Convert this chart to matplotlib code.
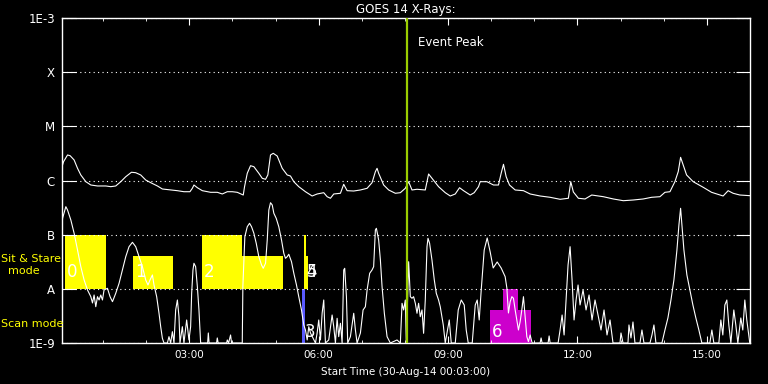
import numpy as np
import matplotlib
matplotlib.use('Agg')
import matplotlib.pyplot as plt
from matplotlib.ticker import MultipleLocator, NullLocator

plt.rcParams['font.family'] = 'DejaVu Sans'
plt.rcParams['text.color'] = 'white'

# GOES 14 light curves: (hours since 00:00, log10 flux W/m^2)
long_channel = [
    (0.05, -5.745), (0.086, -5.653), (0.178, -5.529), (0.238, -5.542), (0.331, -5.621),
    (0.41, -5.775), (0.486, -5.898), (0.602, -6.022), (0.718, -6.083), (0.873, -6.101),
    (1.065, -6.101), (1.181, -6.114), (1.296, -6.101), (1.412, -6.022), (1.528, -5.930),
    (1.66, -5.848), (1.759, -5.856), (1.875, -5.898), (1.991, -5.991), (2.106, -6.040),
    (2.262, -6.101), (2.377, -6.157), (2.569, -6.175), (2.725, -6.188), (2.877, -6.207),
    (3.016, -6.207), (3.072, -6.144), (3.109, -6.083), (3.188, -6.133), (3.303, -6.188),
    (3.495, -6.218), (3.65, -6.218), (3.766, -6.249), (3.882, -6.207), (3.998, -6.207),
    (4.113, -6.218), (4.252, -6.268), (4.282, -6.114), (4.345, -5.867), (4.421, -5.727),
    (4.498, -5.745), (4.613, -5.867), (4.692, -5.959), (4.769, -5.978), (4.822, -5.898),
    (4.884, -5.529), (4.947, -5.498), (5.039, -5.548), (5.155, -5.775), (5.271, -5.898),
    (5.347, -5.917), (5.424, -6.022), (5.539, -6.114), (5.694, -6.207), (5.849, -6.286),
    (5.965, -6.249), (6.118, -6.225), (6.197, -6.299), (6.273, -6.328), (6.35, -6.249),
    (6.505, -6.236), (6.581, -6.070), (6.66, -6.188), (6.813, -6.194), (6.968, -6.175),
    (7.123, -6.144), (7.238, -6.040), (7.315, -5.837), (7.354, -5.775), (7.391, -5.867),
    (7.507, -6.083), (7.623, -6.175), (7.778, -6.236), (7.894, -6.225), (8.009, -6.144),
    (8.086, -6.022), (8.164, -6.175), (8.28, -6.162), (8.472, -6.175), (8.549, -5.880),
    (8.627, -5.959), (8.78, -6.114), (8.935, -6.225), (9.051, -6.286), (9.167, -6.249),
    (9.266, -6.133), (9.359, -6.188), (9.514, -6.268), (9.606, -6.225), (9.706, -6.114),
    (9.745, -6.022), (9.9, -6.022), (10.053, -6.083), (10.169, -6.083), (10.231, -5.867),
    (10.285, -5.701), (10.347, -5.930), (10.424, -6.083), (10.556, -6.175), (10.748, -6.188),
    (10.903, -6.249), (11.134, -6.286), (11.366, -6.310), (11.597, -6.347), (11.789, -6.328),
    (11.845, -6.022), (11.905, -6.212), (12.021, -6.328), (12.176, -6.341), (12.331, -6.268),
    (12.6, -6.299), (12.831, -6.341), (13.063, -6.373), (13.294, -6.360), (13.525, -6.341),
    (13.72, -6.310), (13.912, -6.299), (14.028, -6.218), (14.144, -6.207), (14.259, -6.022),
    (14.336, -5.837), (14.391, -5.572), (14.451, -5.714), (14.53, -5.898), (14.683, -6.022),
    (14.914, -6.125), (15.109, -6.218), (15.377, -6.286), (15.493, -6.188), (15.609, -6.236),
    (15.764, -6.268), (15.995, -6.280),
]

short_channel = [
    (0.05, -6.821), (0.063, -6.698), (0.139, -6.483), (0.178, -6.544), (0.255, -6.729),
    (0.331, -6.974), (0.41, -7.283), (0.486, -7.591), (0.563, -7.837), (0.641, -8.021),
    (0.718, -8.145), (0.757, -8.261), (0.794, -8.114), (0.833, -8.330), (0.873, -8.145),
    (0.91, -8.206), (0.949, -8.114), (0.988, -8.206), (1.025, -8.021), (1.104, -7.990),
    (1.164, -8.145), (1.22, -8.237), (1.296, -8.082), (1.373, -7.898), (1.451, -7.652),
    (1.528, -7.406), (1.604, -7.222), (1.683, -7.141), (1.759, -7.222), (1.836, -7.406),
    (1.914, -7.591), (1.991, -7.837), (2.044, -7.929), (2.09, -7.837), (2.146, -7.744),
    (2.183, -7.929), (2.245, -8.145), (2.299, -8.451), (2.338, -8.699), (2.377, -8.913),
    (2.414, -9.0), (2.493, -9.0), (2.53, -8.883), (2.569, -9.0), (2.609, -8.791),
    (2.646, -9.0), (2.685, -8.390), (2.725, -8.206), (2.762, -8.514), (2.785, -9.0),
    (2.84, -8.699), (2.877, -9.0), (2.94, -8.575), (2.993, -8.944), (3.032, -8.699),
    (3.056, -8.082), (3.086, -7.652), (3.109, -7.528), (3.148, -7.591), (3.188, -7.960),
    (3.225, -8.390), (3.264, -9.0), (3.426, -9.0), (3.442, -8.815), (3.46, -9.0),
    (3.634, -9.0), (3.65, -8.907), (3.67, -9.0), (3.866, -9.0), (3.882, -8.944),
    (3.912, -9.0), (3.958, -8.852), (3.981, -9.0), (4.229, -9.0), (4.243, -7.960),
    (4.289, -7.037), (4.345, -6.853), (4.398, -6.790), (4.444, -6.853), (4.498, -6.974),
    (4.553, -7.159), (4.613, -7.406), (4.676, -7.560), (4.715, -7.621), (4.769, -7.528),
    (4.808, -7.098), (4.845, -6.544), (4.884, -6.410), (4.924, -6.452), (4.961, -6.605),
    (5.016, -6.698), (5.076, -6.853), (5.139, -7.098), (5.192, -7.344), (5.231, -7.436),
    (5.271, -7.406), (5.308, -7.362), (5.37, -7.499), (5.424, -7.713), (5.486, -7.929),
    (5.539, -8.145), (5.602, -8.390), (5.655, -8.667), (5.694, -8.760), (5.734, -8.944),
    (5.771, -8.699), (5.81, -8.815), (5.926, -9.0), (5.965, -8.815), (6.002, -8.575),
    (6.042, -8.944), (6.081, -8.446), (6.118, -8.206), (6.157, -9.0), (6.234, -8.944),
    (6.312, -8.483), (6.35, -8.699), (6.389, -9.0), (6.428, -8.544), (6.465, -8.883),
    (6.505, -8.636), (6.544, -9.0), (6.581, -7.652), (6.604, -7.621), (6.644, -8.145),
    (6.674, -9.0), (6.736, -8.883), (6.813, -8.451), (6.852, -8.760), (6.891, -9.0),
    (6.968, -8.815), (7.03, -8.390), (7.083, -8.330), (7.123, -8.021), (7.183, -7.713),
    (7.238, -7.652), (7.275, -7.591), (7.315, -6.914), (7.338, -6.882), (7.391, -7.098),
    (7.431, -7.467), (7.47, -7.960), (7.523, -8.451), (7.586, -8.883), (7.662, -9.0),
    (7.817, -8.944), (7.894, -9.0), (7.933, -8.267), (7.97, -8.390), (8.009, -8.206),
    (8.032, -9.0), (8.086, -7.499), (8.125, -8.145), (8.164, -8.174), (8.201, -8.145),
    (8.241, -8.267), (8.28, -8.451), (8.317, -8.267), (8.356, -8.514), (8.396, -8.390),
    (8.433, -8.821), (8.472, -8.206), (8.512, -7.222), (8.535, -7.067), (8.572, -7.159),
    (8.627, -7.467), (8.681, -7.837), (8.727, -8.082), (8.78, -8.206), (8.819, -8.330),
    (8.889, -8.667), (8.935, -9.0), (9.028, -8.575), (9.074, -9.0), (9.167, -9.0),
    (9.236, -8.390), (9.306, -8.206), (9.375, -8.298), (9.421, -8.760), (9.468, -9.0),
    (9.56, -9.0), (9.63, -8.298), (9.676, -8.206), (9.722, -8.575), (9.769, -8.021),
    (9.838, -7.283), (9.907, -7.061), (9.977, -7.320), (10.046, -7.615), (10.139, -7.504),
    (10.231, -7.615), (10.324, -7.776), (10.363, -7.984), (10.4, -8.446), (10.44, -8.237),
    (10.479, -8.145), (10.516, -8.174), (10.556, -8.390), (10.594, -8.575), (10.632, -8.760),
    (10.671, -8.606), (10.71, -8.390), (10.748, -8.145), (10.787, -8.514), (10.826, -8.883),
    (10.863, -8.975), (10.903, -8.852), (10.949, -9.0), (11.134, -9.0), (11.157, -8.907),
    (11.18, -9.0), (11.319, -9.0), (11.343, -8.870), (11.366, -9.0), (11.551, -9.0),
    (11.597, -8.760), (11.644, -8.483), (11.69, -8.852), (11.736, -8.206), (11.782, -7.560),
    (11.829, -7.222), (11.875, -7.837), (11.921, -8.575), (11.968, -8.206), (12.014, -7.929),
    (12.06, -8.298), (12.13, -8.021), (12.199, -8.390), (12.269, -8.114), (12.338, -8.575),
    (12.407, -8.206), (12.477, -8.483), (12.546, -8.760), (12.616, -8.390), (12.685, -8.852),
    (12.755, -8.575), (12.824, -9.0), (12.986, -9.0), (13.009, -8.815), (13.056, -9.0),
    (13.171, -9.0), (13.194, -8.667), (13.241, -8.907), (13.287, -8.612), (13.333, -9.0),
    (13.449, -9.0), (13.495, -8.760), (13.542, -9.0), (13.681, -9.0), (13.727, -8.852),
    (13.773, -8.667), (13.819, -9.0), (13.958, -9.0), (14.028, -8.760), (14.097, -8.538),
    (14.167, -8.206), (14.236, -7.837), (14.306, -7.283), (14.352, -6.821), (14.391, -6.513),
    (14.421, -6.821), (14.468, -7.283), (14.537, -7.744), (14.606, -8.021), (14.676, -8.298),
    (14.745, -8.538), (14.815, -8.760), (14.884, -9.0), (15.069, -9.0), (15.116, -8.760),
    (15.162, -9.0), (15.278, -9.0), (15.324, -8.575), (15.37, -8.852), (15.417, -8.298),
    (15.463, -8.206), (15.509, -8.667), (15.556, -9.0), (15.625, -8.390), (15.671, -8.667),
    (15.718, -9.0), (15.787, -8.538), (15.833, -8.760), (15.88, -8.206), (15.926, -8.575),
    (15.972, -8.852), (15.995, -9.0),
]

# IRIS observations: start/end (hours), flux band, mode
obs_start = [0.116, 1.690, 3.287, 3.287, 5.671, 5.718, 5.625, 9.977, 10.285]
obs_end = [1.065, 2.630, 4.229, 5.178, 5.718, 5.748, 5.694, 10.926, 10.618]
obs_top = [1e-7, 4.07e-8, 1e-7, 4.07e-8, 1e-7, 4.07e-8, 1e-8, 4.07e-9, 1e-8]
obs_bottom = [1e-8, 1e-8, 1e-8, 1e-8, 1e-8, 1e-8, 1e-9, 1e-9, 1e-9]
obs_mode = ['sit', 'sit', 'sit', 'sit', 'sit', 'sit', 'scan', 'scan', 'scan']
obs_label = ['0', '1', '2', '', '4', '5', '3', '6', '']

label_flux = {'sit': 10**-7.69, 'scan': 10**-8.8}

event_peak = 8.056
goes_levels = [1e-9, 1e-8, 1e-7, 1e-6, 1e-5, 1e-4, 1e-3]
goes_names = ['1E-9', 'A', 'B', 'C', 'M', 'X', '1E-3']
hour_ticks = [3, 6, 9, 12, 15]

fig = plt.figure(figsize=(7.68, 3.84), dpi=100, facecolor='black')
ax = fig.add_axes([62/768, 1-343/384, (750-62)/768, (343-18)/384])
ax.set_facecolor('black')

for i in range(len(obs_start)):
    if obs_mode[i] == 'sit':
        col = '#ffff00'
    elif obs_start[i] > 9:
        col = '#cc00cc'
    else:
        col = '#5a5aff'
    ax.bar(obs_start[i], obs_top[i] - obs_bottom[i], width=obs_end[i] - obs_start[i],
           bottom=obs_bottom[i], align='edge', color=col, linewidth=0, zorder=1)
    if obs_label[i]:
        # 4 and 5 start almost together and print on top of each other
        x0 = obs_start[i] + 0.05 if obs_label[i] != '5' else obs_start[4] + 0.05
        ax.text(x0, label_flux[obs_mode[i]], obs_label[i],
                color='white', fontsize=12, ha='left', va='center', zorder=2)

lh, lf = zip(*long_channel)
sh, sf = zip(*short_channel)
ax.plot(lh, 10**np.array(lf), color='white', lw=0.8, zorder=3)
ax.plot(sh, 10**np.array(sf), color='white', lw=0.8, zorder=3)

ax.axvline(event_peak, color='#9acd00', lw=1.6, zorder=4)
ax.text(event_peak + 0.25, 10**-3.46, 'Event Peak', color='white', fontsize=8.5,
        va='center', ha='left')

ax.set_yscale('log')
ax.set_ylim(1e-9, 1e-3)
ax.set_xlim(0.05, 16.0)
ax.set_yticks(goes_levels)
ax.set_yticklabels(goes_names)
ax.yaxis.set_minor_locator(NullLocator())
ax.set_xticks(hour_ticks)
ax.set_xticklabels(['%02d:00' % h for h in hour_ticks])
ax.xaxis.set_minor_locator(MultipleLocator(1))

ax.tick_params(axis='x', which='major', direction='in', length=5, top=True, bottom=True,
               colors='white', labelsize=7.5, pad=5)
ax.tick_params(axis='x', which='minor', direction='in', length=2.2, top=True, bottom=True,
               colors='white')
ax.tick_params(axis='y', which='major', direction='in', length=10, left=True, right=True,
               colors='white', labelsize=8.5, pad=5)
ax.grid(True, axis='y', color='white', linestyle=(0, (1, 3)), linewidth=0.8)
for sp in ax.spines.values():
    sp.set_color('white')
    sp.set_linewidth(1)

fig.text(406/768, 1-9/384, 'GOES 14 X-Rays:', ha='center', va='center', fontsize=8.5)
fig.text(406/768, 1-372/384, 'Start Time (30-Aug-14 00:03:00)', ha='center', va='center',
         fontsize=7.5)
fig.text(1/768, 1-259/384, 'Sit & Stare', color='#ffff00', ha='left', va='center', fontsize=8)
fig.text(24/768, 1-271/384, 'mode', color='#ffff00', ha='center', va='center', fontsize=8)
fig.text(1/768, 1-324/384, 'Scan mode', color='#ffff00', ha='left', va='center', fontsize=8)

fig.savefig('out.png', dpi=100, facecolor='black')
